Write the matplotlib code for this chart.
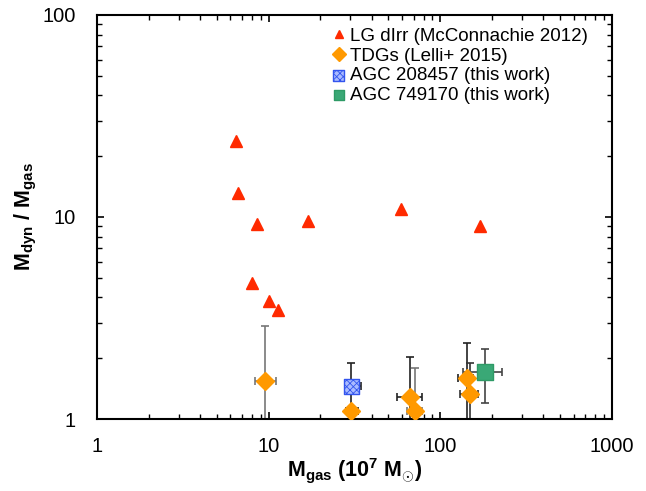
import numpy as np
import matplotlib.pyplot as plt

plt.rcParams['font.family'] = ['Liberation Sans', 'DejaVu Sans']
plt.rcParams['mathtext.fontset'] = 'custom'
plt.rcParams['mathtext.rm'] = 'Liberation Sans:bold'
plt.rcParams['mathtext.bf'] = 'Liberation Sans:bold'
plt.rcParams['mathtext.it'] = 'Liberation Sans:bold'

# LG dIrr (McConnachie 2012)
lg_mgas = [6.5, 6.6, 8.55, 8.0, 10.0, 11.3, 16.9, 59.0, 170.0]
lg_ratio = [23.8, 13.1, 9.2, 4.7, 3.85, 3.45, 9.5, 10.9, 9.0]

# TDGs (Lelli+ 2015)
tdg_mgas = [9.6, 30.4, 66.5, 71.0, 143.0, 150.0]
tdg_mgas_lo = [1.3, 2.3, 10.5, 7.0, 16.0, 20.0]
tdg_mgas_hi = [1.4, 3.0, 11.5, 7.5, 13.0, 17.0]
tdg_ratio = [1.54, 1.10, 1.29, 1.10, 1.59, 1.33]
tdg_ratio_lo = [0.7, 0.3, 0.5, 0.3, 0.8, 0.5]
tdg_ratio_hi = [1.35, 0.0, 0.74, 0.68, 0.78, 0.56]
tdg_err_color = ['#777777', '#222222', '#222222', '#777777', '#222222', '#333333']

# this work
agc1_mgas, agc1_xerr, agc1_ratio, agc1_yerr = 30.4, [[2.3], [4.2]], 1.45, [[0.5], [0.44]]
agc2_mgas, agc2_xerr, agc2_ratio, agc2_yerr = 182.0, [[47.0], [48.0]], 1.71, [[0.51], [0.51]]

fig = plt.figure(figsize=(6.46, 4.91), dpi=100)
ax = fig.add_axes([0.150, 0.1466, 0.797, 0.8229])

for i in range(len(tdg_mgas)):
    ax.errorbar(tdg_mgas[i], tdg_ratio[i],
                xerr=[[tdg_mgas_lo[i]], [tdg_mgas_hi[i]]],
                yerr=[[tdg_ratio_lo[i]], [tdg_ratio_hi[i]]],
                fmt='none', ecolor=tdg_err_color[i], elinewidth=1.2,
                capsize=3, capthick=1.2, zorder=2)

ax.errorbar(agc1_mgas, agc1_ratio, xerr=agc1_xerr, yerr=agc1_yerr, fmt='none',
            ecolor='#222222', elinewidth=1.2, capsize=3, capthick=1.2, zorder=2)
ax.errorbar(agc2_mgas, agc2_ratio, xerr=agc2_xerr, yerr=agc2_yerr, fmt='none',
            ecolor='#444444', elinewidth=1.2, capsize=3, capthick=1.2, zorder=2)

ax.plot(lg_mgas, lg_ratio, '^', color='#ff2a00', ms=9, mec='#ff2a00', ls='none',
        label='LG dIrr (McConnachie 2012)', zorder=3)
ax.plot(tdg_mgas, tdg_ratio, 'D', color='#ff9900', ms=9.5, mec='#ff9900', ls='none',
        label='TDGs (Lelli+ 2015)', zorder=3)
plt.rcParams['hatch.color'] = '#3355ee'
plt.rcParams['hatch.linewidth'] = 0.6
ax.scatter([agc1_mgas], [agc1_ratio], marker='s', s=110, facecolor='#aabbff',
           edgecolor='#3355ee', hatch='xxxxx', linewidth=1.0, zorder=4,
           label='AGC 208457 (this work)')
ax.scatter([agc2_mgas], [agc2_ratio], marker='s', s=120, facecolor='#3aa876',
           edgecolor='#2e9a66', linewidth=1.0, zorder=4,
           label='AGC 749170 (this work)')

ax.set_xscale('log')
ax.set_yscale('log')
ax.set_xlim(1, 1000)
ax.set_ylim(1, 100)
ax.set_xticks([1, 10, 100, 1000])
ax.set_xticklabels(['1', '10', '100', '1000'])
ax.set_yticks([1, 10, 100])
ax.set_yticklabels(['1', '10', '100'])

for s in ax.spines.values():
    s.set_linewidth(1.5)
ax.tick_params(which='both', direction='in', top=True, right=True, labelsize=14.5)
ax.tick_params(which='major', length=5, width=1.2)
ax.tick_params(which='minor', length=3.3, width=1.0)
ax.tick_params(axis='x', which='major', pad=13)
ax.tick_params(axis='y', which='major', pad=15)

ax.set_xlabel(r'M$_{\mathregular{gas}}$ (10$^{\mathregular{7}}$ M$_{\odot}$)',
              fontsize=15.5, fontweight='bold', labelpad=0)
ax.set_ylabel(r'M$_{\mathregular{dyn}}$ / M$_{\mathregular{gas}}$',
              fontsize=15.5, fontweight='bold', labelpad=3)

ax.legend(loc='upper right', bbox_to_anchor=(0.975, 0.997), frameon=False,
          fontsize=13.5, handlelength=0.6, handletextpad=0.3, labelspacing=0.15,
          borderaxespad=0.2, markerscale=0.7, scatterpoints=1)

fig.savefig('out.png', dpi=100)
